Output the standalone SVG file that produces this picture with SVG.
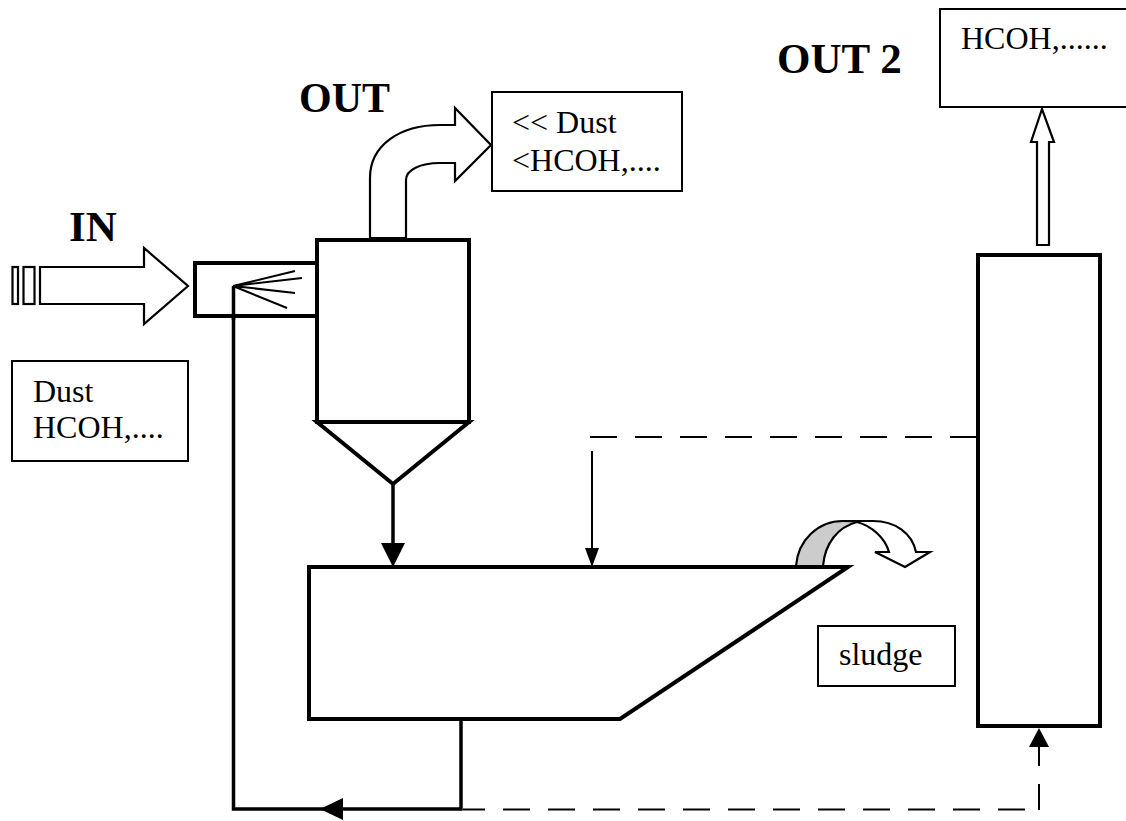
<svg xmlns="http://www.w3.org/2000/svg" width="1126" height="821" viewBox="0 0 1126 821">
<style>
.t{font-family:"Liberation Serif","Times New Roman",serif;font-size:32px;fill:#000}
.h{font-family:"Liberation Serif","Times New Roman",serif;font-size:43px;font-weight:bold;fill:#000}
.box{fill:#fff;stroke:#000;stroke-width:2}
.thin{fill:#fff;stroke:#000;stroke-width:2.2;stroke-linejoin:miter}
.med{fill:none;stroke:#000;stroke-width:3.5}
.dash{fill:none;stroke:#000;stroke-width:2;stroke-dasharray:27 18}
.fine{fill:none;stroke:#000;stroke-width:2}
.vessel{fill:#fff;stroke:#000;stroke-width:4;stroke-linejoin:miter}
</style>
<rect width="1126" height="821" fill="#fff"/>
<g id="connectors">
<path class="dash" d="M590 437H977"/>
<path class="fine" d="M592 451V552"/>
<polygon points="592,567 585,548 599,548" fill="#000"/>
<path class="med" d="M393 484V548"/>
<polygon points="393,567 381,543 405,543" fill="#000"/>
<path class="med" d="M461 719V809H233.500V286"/>
<polygon points="320,809 343,798 343,820" fill="#000"/>
<path class="dash" d="M463 809.500H1025" style="stroke-dashoffset:5"/>
<path class="fine" d="M1039 810V784M1039 766V745"/>
<polygon points="1039,728 1029,747 1049,747" fill="#000"/>
</g>
<g id="in-arrow">
<rect class="thin" x="12.500" y="267" width="5.500" height="37"/>
<rect class="thin" x="23.500" y="267" width="11" height="37"/>
<polygon class="thin" points="40,267 144,267 144,248 188,286 144,324 144,304 40,304"/>
</g>
<g id="in-label"><text class="h" x="69" y="241">IN</text></g>
<g id="out-label"><text class="h" x="299" y="112" style="font-size:42px">OUT</text></g>
<g id="out2-label"><text class="h" x="777" y="73">OUT 2</text></g>
<g id="in-box"><rect class="box" x="12" y="361" width="176" height="100"/>
<text class="t" x="33" y="402">Dust</text><text class="t" x="33" y="438">HCOH,....</text></g>
<g id="out-box"><rect class="box" x="492" y="92" width="190" height="99"/>
<text class="t" x="512" y="133">&lt;&lt; Dust</text><text class="t" x="512" y="171">&lt;HCOH,....</text></g>
<g id="out2-box"><rect class="box" x="940" y="9" width="190" height="98"/>
<text class="t" x="961" y="49">HCOH,......</text></g>
<g id="sludge-box"><rect class="box" x="818" y="626" width="137" height="60"/>
<text class="t" x="839" y="665">sludge</text></g>
<g id="out-arrow">
<path class="thin" d="M370 238V178C370 145 400 125 440 125H455V108L491 145L455 181V163H440C420 163 406 170 406 180V238Z"/>
</g>
<g id="out2-arrow">
<polygon class="thin" points="1037,245 1037,142 1031,142 1042,109 1054,142 1049,142 1049,245"/>
</g>
<g id="spray-head">
<rect class="vessel" x="195" y="263" width="122" height="53"/>
<path class="fine" d="M233 286L295 271M233 286L302 278M233 286L295 293M233 286L287 308"/>
<path class="med" d="M233.500 286V320"/>
</g>
<g id="scrubber">
<path class="vessel" d="M317 240H469V422H317Z"/>
<path class="vessel" d="M317 422H469L393 484Z"/>
</g>
<g id="sludge-arrow">
<path class="thin" d="M843 521H873C895 521 912 533 916 552H930L905 567L875 552H889C885 538 872 526 857 522Z"/>
<path fill="#ccc" stroke="#000" stroke-width="2.2" d="M796 566C798 540 818 521 843 521C850 521 855 521 857 522C838 527 825 543 823 566Z"/>
</g>
<g id="settler">
<path class="vessel" d="M309 567H848L620 719H309Z"/>
</g>
<g id="absorber">
<rect class="vessel" x="978" y="255" width="122" height="471"/>
</g>
</svg>
